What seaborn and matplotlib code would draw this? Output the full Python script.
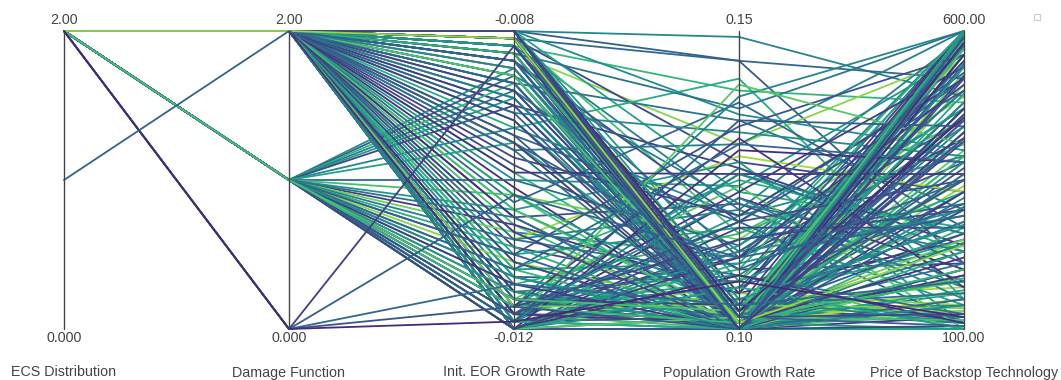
import matplotlib
matplotlib.use("Agg")
import matplotlib.pyplot as plt
from matplotlib.patches import Rectangle
import matplotlib.colors as mcolors
import pandas as pd
import seaborn as sns

# ---------------- data ----------------
AXIS_NAMES = ["ECS Distribution", "Damage Function", "Init. EOR Growth Rate",
              "Population Growth Rate", "Price of Backstop Technology"]
AXIS_MIN = [0.0, 0.0, -0.012, 0.10, 100.0]
AXIS_MAX = [2.0, 2.0, -0.008, 0.15, 600.0]
TOP_LABELS = ["2.00", "2.00", "-0.008", "0.15", "600.00"]
BOTTOM_LABELS = ["0.000", "0.000", "-0.012", "0.10", "100.00"]

ECS = [
    2, 2, 2, 2, 2, 2, 2, 2, 2, 2, 2, 2, 2, 2, 2, 2, 2, 2, 2, 2,
    2, 2, 2, 2, 2, 2, 2, 2, 2, 2, 2, 2, 2, 2, 2, 2, 2, 2, 2, 2,
    2, 2, 2, 2, 2, 2, 2, 2, 2, 2, 2, 2,
    2, 2, 2, 2, 2, 2, 2, 2, 2, 2, 2, 2, 2, 2, 2, 2, 2, 2, 2, 2, 2, 2, 2, 2, 2,
    2, 2, 2, 2, 2, 2, 2, 2, 2, 2, 2, 2, 2, 2, 2, 2, 2, 2, 2, 2, 2, 2, 2, 2, 2,
    2, 2, 2, 2, 2, 2, 2, 2,
    2, 2, 2, 2, 2, 2, 2, 2, 2, 2, 2, 2, 2, 2, 2, 2, 2, 2, 2, 2, 2, 2, 2, 2, 2,
    2, 2, 2, 2, 2, 2, 2, 2, 2, 2, 2, 2, 2, 2, 2, 2, 2, 2, 2, 2,
    2, 2, 2, 2, 2, 2, 2, 2, 2, 2, 2, 2, 2, 2, 2, 2, 2, 2, 2, 2,
    2, 2, 2, 2, 2, 2, 2, 2, 2, 2, 2, 2, 2, 2, 2, 2, 2, 2, 2, 2,
    2, 2, 2, 2, 2, 2, 2, 2, 2, 2, 2, 2, 2, 2, 2, 2, 2, 2, 2, 2,
    2, 2, 2, 2, 2,
    1,
]
DAMAGE = [
    2, 2, 2, 2, 2, 2, 2, 2, 2, 2, 2, 2, 2, 2, 2, 2, 2, 2, 2, 2,
    2, 2, 2, 2, 2, 2, 2, 2, 2, 2, 2, 2, 2, 2, 2, 2, 2, 2, 2, 2,
    2, 2, 2, 2, 2, 2, 2, 2, 2, 2, 2, 2,
    2, 2, 2, 2, 2, 2, 2, 2, 2, 2, 2, 2, 2, 2, 2, 2, 2, 2, 2, 2, 2, 2, 2, 2, 2,
    2, 2, 2, 2, 2, 2, 2, 2, 2, 2, 2, 2, 2, 2, 2, 2, 2, 2, 2, 2, 2, 2, 2, 2, 2,
    1, 1, 1, 1, 1, 1, 1, 1,
    1, 1, 1, 1, 1, 1, 1, 1, 1, 1, 1, 1, 1, 1, 1, 1, 1, 1, 1, 1, 1, 1, 1, 1, 1,
    2, 2, 2, 2, 2, 2, 2, 2, 2, 2, 2, 2, 2, 2, 2, 2, 2, 2, 2, 2,
    2, 2, 2, 2, 2, 2, 2, 2, 2, 2, 2, 2, 2, 2, 2, 2, 2, 2, 2, 2,
    1, 1, 1, 1, 1, 1, 1, 1, 1, 1, 1, 1, 1, 1, 1, 1, 1, 1, 1, 1,
    2, 2, 2, 2, 2, 2, 2, 2, 2, 2, 2, 2, 2, 2, 2, 2, 2, 2, 2, 2,
    0, 0, 0, 0, 0,
    2,
]
EOR_GROWTH = [
    -0.0080, -0.0081, -0.0080, -0.0082, -0.0081, -0.0083, -0.0080, -0.0084, -0.0081, -0.0082,
    -0.0085, -0.0080, -0.0083, -0.0081, -0.0086, -0.0082, -0.0080, -0.0084, -0.0081, -0.0088,
    -0.0080, -0.0082, -0.0085, -0.0081, -0.0080, -0.0084, -0.0082, -0.0083, -0.0089, -0.0080,
    -0.0086, -0.0082, -0.0081, -0.0087, -0.0080, -0.0083, -0.0082, -0.0081, -0.0090, -0.0080,
    -0.0080, -0.0081, -0.0080, -0.0082, -0.0080, -0.0083, -0.0081, -0.0080, -0.0082, -0.0081,
    -0.0084, -0.0080,
    -0.0087, -0.0089, -0.0090, -0.0092, -0.0093, -0.0094, -0.0095, -0.0096, -0.0098, -0.0099,
    -0.0100, -0.0101, -0.0102, -0.0103, -0.0104, -0.0105, -0.0106, -0.0107, -0.0108, -0.0109,
    -0.0110, -0.0111, -0.0112, -0.0113, -0.0091,
    -0.0120, -0.0119, -0.0120, -0.0118, -0.0117, -0.0120, -0.0116, -0.0119, -0.0115, -0.0120,
    -0.0118, -0.0114, -0.0119, -0.0120, -0.0117, -0.0116, -0.0120, -0.0118, -0.0119, -0.0115,
    -0.0120, -0.0117, -0.0118, -0.0119, -0.0120,
    -0.0085, -0.0086, -0.0087, -0.0088, -0.0089, -0.0090, -0.0093, -0.0095,
    -0.0100, -0.0102, -0.0104, -0.0106, -0.0107, -0.0108, -0.0109, -0.0110, -0.0111, -0.0112,
    -0.0113, -0.0114, -0.0115, -0.0116, -0.0116, -0.0117, -0.0117, -0.0118, -0.0118, -0.0119,
    -0.0119, -0.0119, -0.0120, -0.0120, -0.0120,
    -0.0095, -0.0118, -0.0088, -0.0120, -0.0105, -0.0083, -0.0119, -0.0112, -0.0097, -0.0120,
    -0.0091, -0.0117, -0.0102, -0.0120, -0.0086, -0.0115, -0.0108, -0.0119, -0.0094, -0.0120,
    -0.0081, -0.0116, -0.0099, -0.0120, -0.0111, -0.0089, -0.0118, -0.0104, -0.0120, -0.0092,
    -0.0119, -0.0084, -0.0113, -0.0120, -0.0096, -0.0117, -0.0107, -0.0120, -0.0087, -0.0118,
    -0.0120, -0.0118, -0.0116, -0.0119, -0.0112, -0.0120, -0.0115, -0.0117, -0.0120, -0.0110,
    -0.0119, -0.0114, -0.0120, -0.0118, -0.0105, -0.0117, -0.0120, -0.0113, -0.0119, -0.0116,
    -0.0080, -0.0082, -0.0081, -0.0080, -0.0084, -0.0083, -0.0080, -0.0081, -0.0086, -0.0082,
    -0.0080, -0.0085, -0.0081, -0.0083, -0.0080, -0.0087, -0.0082, -0.0080, -0.0084, -0.0081,
    -0.0082, -0.0102, -0.0114, -0.0117, -0.0119,
    -0.0095,
]
POP_GROWTH = [
    0.100, 0.101, 0.100, 0.102, 0.100, 0.103, 0.101, 0.100, 0.104, 0.100,
    0.102, 0.101, 0.100, 0.103, 0.100, 0.101, 0.102, 0.100, 0.105, 0.101,
    0.100, 0.102, 0.100, 0.103, 0.101, 0.100, 0.104, 0.100, 0.101, 0.102,
    0.100, 0.103, 0.100, 0.101, 0.100, 0.102, 0.106, 0.100, 0.101, 0.100,
    0.149, 0.145, 0.145, 0.140, 0.136, 0.131, 0.128, 0.123, 0.120, 0.116,
    0.112, 0.108,
    0.135, 0.101, 0.127, 0.102, 0.142, 0.118, 0.100, 0.131, 0.110, 0.104,
    0.124, 0.100, 0.115, 0.138, 0.103, 0.121, 0.100, 0.112, 0.129, 0.106,
    0.117, 0.100, 0.125, 0.108, 0.133,
    0.100, 0.103, 0.108, 0.101, 0.112, 0.100, 0.105, 0.118, 0.102, 0.100,
    0.110, 0.104, 0.122, 0.100, 0.107, 0.101, 0.115, 0.100, 0.103, 0.109,
    0.100, 0.126, 0.102, 0.106, 0.100,
    0.100, 0.102, 0.100, 0.113, 0.101, 0.100, 0.119, 0.104,
    0.114, 0.100, 0.128, 0.106, 0.101, 0.120, 0.100, 0.134, 0.103, 0.111,
    0.100, 0.116, 0.102, 0.124, 0.100, 0.108, 0.139, 0.101, 0.113, 0.100,
    0.105, 0.119, 0.100, 0.102, 0.109,
    0.100, 0.127, 0.101, 0.114, 0.100, 0.137, 0.102, 0.100, 0.119, 0.105,
    0.100, 0.132, 0.103, 0.100, 0.121, 0.100, 0.109, 0.141, 0.100, 0.117,
    0.103, 0.100, 0.126, 0.111, 0.100, 0.100, 0.123, 0.102, 0.107, 0.100,
    0.100, 0.118, 0.101, 0.130, 0.100, 0.104, 0.100, 0.113, 0.100, 0.101,
    0.100, 0.122, 0.104, 0.100, 0.131, 0.109, 0.100, 0.115, 0.102, 0.100,
    0.126, 0.100, 0.107, 0.118, 0.100, 0.101, 0.112, 0.100, 0.135, 0.103,
    0.101, 0.100, 0.103, 0.100, 0.102, 0.100, 0.105, 0.100, 0.101, 0.104,
    0.100, 0.102, 0.100, 0.101, 0.103, 0.100, 0.100, 0.102, 0.100, 0.101,
    0.100, 0.112, 0.104, 0.100, 0.108,
    0.110,
]
BACKSTOP_PRICE = [
    600, 580, 150, 420, 590, 120, 340, 560, 260, 600,
    480, 200, 530, 110, 390, 600, 300, 570, 170, 450,
    595, 230, 510, 140, 370, 590, 280, 100, 440, 550,
    190, 600, 320, 130, 470, 585, 250, 400, 160, 540,
    490, 520, 210, 480, 400, 560, 330, 270, 590, 450,
    380, 500,
    300, 580, 240, 460, 150, 530, 380, 600, 210, 350,
    560, 120, 490, 270, 590, 180, 420, 600, 330, 550,
    140, 470, 260, 600, 390,
    100, 180, 560, 120, 420, 600, 240, 110, 350, 150,
    590, 280, 200, 130, 500, 100, 310, 580, 160, 440,
    105, 230, 600, 140, 380,
    560, 330, 200, 470, 600, 140, 390, 250,
    520, 360, 110, 600, 250, 170, 470, 560, 130, 300,
    590, 410, 210, 100, 540, 330, 600, 150, 450, 270,
    120, 520, 190, 580, 100,
    330, 210, 580, 470, 140, 600, 260, 390, 520, 110,
    450, 170, 600, 300, 230, 560, 125, 410, 590, 270,
    480, 150, 360, 600, 200, 430, 540, 115, 310, 600,
    245, 500, 165, 380, 575, 135, 460, 290, 600, 190,
    420, 150, 600, 230, 380, 110, 540, 300, 180, 590,
    260, 470, 100, 350, 600, 200, 510, 140, 440, 570,
    220, 600, 350, 495, 105, 580, 275, 415, 600, 160,
    525, 305, 590, 185, 455, 360, 600, 125, 545, 240,
    430, 290, 180, 520, 120,
    350,
]
COLOR_VALUE = [
    0.55, 0.15, 0.80, 0.35, 0.60, 0.10, 0.90, 0.45, 0.25, 0.70,
    0.05, 0.50, 0.85, 0.30, 0.65, 0.20, 0.75, 0.40, 0.95, 0.12,
    0.58, 0.33, 0.88, 0.48, 0.18, 0.68, 0.08, 0.78, 0.38, 0.52,
    0.28, 0.92, 0.42, 0.62, 0.22, 0.72, 0.02, 0.82, 0.47, 0.57,
    0.45, 0.30, 0.25, 0.70, 0.50, 0.90, 0.15, 0.60, 0.40, 0.75,
    0.20, 0.55,
    0.35, 0.80, 0.10, 0.55, 0.65, 0.25, 0.90, 0.40, 0.15, 0.70,
    0.50, 0.05, 0.85, 0.30, 0.60, 0.20, 0.75, 0.45, 0.95, 0.12,
    0.58, 0.38, 0.68, 0.22, 0.48,
    0.60, 0.20, 0.85, 0.40, 0.10, 0.70, 0.50, 0.30, 0.90, 0.15,
    0.65, 0.45, 0.05, 0.80, 0.35, 0.55, 0.25, 0.75, 0.95, 0.42,
    0.12, 0.62, 0.32, 0.88, 0.52,
    0.50, 0.25, 0.70, 0.40, 0.55, 0.15, 0.45, 0.60,
    0.30, 0.75, 0.55, 0.10, 0.85, 0.40, 0.65, 0.20, 0.90, 0.50,
    0.05, 0.70, 0.35, 0.80, 0.15, 0.60, 0.45, 0.95, 0.25, 0.68,
    0.38, 0.58, 0.88, 0.18, 0.78,
    0.10, 0.30, 0.15, 0.55, 0.05, 0.35, 0.20, 0.70, 0.12, 0.45,
    0.25, 0.08, 0.60, 0.18, 0.40, 0.03, 0.32, 0.80, 0.22, 0.14,
    0.50, 0.28, 0.06, 0.65, 0.16, 0.38, 0.09, 0.75, 0.26, 0.11,
    0.42, 0.19, 0.58, 0.04, 0.34, 0.85, 0.13, 0.48, 0.24, 0.07,
    0.20, 0.45, 0.10, 0.65, 0.30, 0.05, 0.55, 0.15, 0.80, 0.25,
    0.40, 0.08, 0.60, 0.18, 0.35, 0.72, 0.12, 0.50, 0.22, 0.76,
    0.08, 0.40, 0.18, 0.62, 0.28, 0.05, 0.52, 0.14, 0.78, 0.34,
    0.10, 0.44, 0.22, 0.68, 0.03, 0.30, 0.56, 0.16, 0.26, 0.92,
    0.10, 0.25, 0.30, 0.20, 0.02,
    0.27,
]

# ---------------- build long-form table ----------------
columns = [ECS, DAMAGE, EOR_GROWTH, POP_GROWTH, BACKSTOP_PRICE]
records = []
for i in range(len(ECS)):
    for j, col in enumerate(columns):
        norm = (col[i] - AXIS_MIN[j]) / (AXIS_MAX[j] - AXIS_MIN[j])
        records.append({"line": i, "axis": j, "y": norm})
df = pd.DataFrame(records)

# colour of each line from the viridis scale (drawn in data order)
cmap = sns.color_palette("viridis", as_cmap=True)
cnorm = mcolors.Normalize(vmin=-0.12, vmax=1.12)
line_palette = {i: cmap(cnorm(c)) for i, c in enumerate(COLOR_VALUE)}

# ---------------- plot ----------------
sns.set_style("white")
plt.rcParams["font.family"] = ["Liberation Sans", "DejaVu Sans"]

W, H = 1061, 380
fig = plt.figure(figsize=(W / 100, H / 100), dpi=100)
left_px, right_px, top_px, bot_px = 64, 964, 31, 329
ax = fig.add_axes([left_px / W, 1 - bot_px / H, (right_px - left_px) / W, (bot_px - top_px) / H])

sns.lineplot(data=df, x="axis", y="y", hue="line", palette=line_palette, estimator=None,
             legend=False, sort=False, linewidth=1.3, ax=ax)
for ln in ax.lines:
    ln.set_clip_on(False)

ax.set_xlim(0, 4)
ax.set_ylim(0, 1)
ax.axis("off")

px2pt = 72 / 100
for j in range(5):
    ax.plot([j, j], [0, 1], color="#444444", lw=1.0, zorder=5, clip_on=False)
    ax.annotate(TOP_LABELS[j], xy=(j, 1), xytext=(0, 11.5 * px2pt), textcoords="offset points",
                ha="center", va="center", fontsize=10.3, color="#444444")
    ax.annotate(BOTTOM_LABELS[j], xy=(j, 0), xytext=(0, -9.5 * px2pt), textcoords="offset points",
                ha="center", va="center", fontsize=10.3, color="#444444")
    ax.annotate(AXIS_NAMES[j], xy=(j, 0), xytext=(0, -43.5 * px2pt), textcoords="offset points",
                ha="center", va="center", fontsize=10.3, color="#444444")

# small empty legend box (top right)
fig.patches.append(Rectangle((1034 / W, 1 - 20 / H), 6 / W, 6 / H, transform=fig.transFigure,
                             fill=False, edgecolor="#cccccc", lw=0.8))

fig.savefig("out.png", dpi=100)
